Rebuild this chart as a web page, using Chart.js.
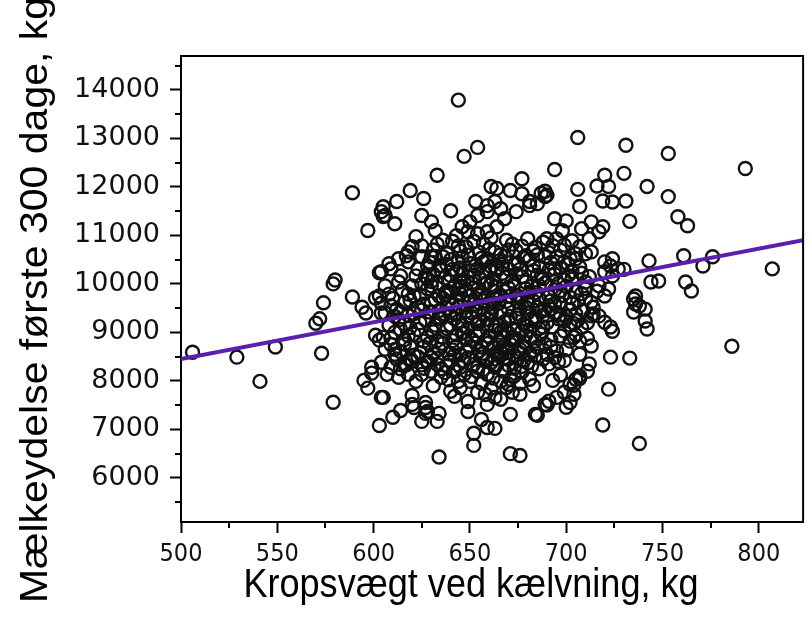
<!DOCTYPE html>
<html>
<head>
<meta charset="utf-8">
<script src="https://cdn.jsdelivr.net/npm/chart.js@4"></script>
<style>
html,body{margin:0;padding:0;background:#fff;}
#c{display:block;}
</style>
</head>
<body>
<canvas id="c" width="812" height="624"></canvas>
<script>
const xTitle = 'Kropsvægt ved kælvning, kg';
const yTitle = 'Mælkeydelse første 300 dage, kg';
const xTicks = [500, 550, 600, 650, 700, 750, 800];
const xMinorTicks = [525, 575, 625, 675, 725, 775];
const yTicks = [6000, 7000, 8000, 9000, 10000, 11000, 12000, 13000, 14000];
const yMinorTicks = [5500, 6500, 7500, 8500, 9500, 10500, 11500, 12500, 13500, 14500];
const xRange = [500, 823];
const yRange = [5090, 14700];
const fitLineWeight = [500, 823];
const fitLineMilk = [8450, 10900];

// [body weight at calving (kg), milk yield first 300 days (kg)]
const cows = [
[506,8590],[529,8490],[541,7990],[549,8700],[573,8570],[570,9190],[572,9280],[574,9610],[579,7560],[579,10000],[580,10080],[589,11880],[589,9730],[594,9520],[596,9400],[597,11100],[601,9710],[603,9750],[604,9400],[603,8840],[601,8940],[599,8280],[599,8160],[595,8010],[597,7850],[604,7660],[603,7080],[604,11490],[605,11390],[603,10230],
[644,13790],[647,12630],[654,12815],[706,13020],[633,12240],[694,12360],[731,12860],[753,12690],[793,12380],[619,11925],[612,11700],[626,11760],[605,11590],[606,11410],[611,11240],[625,11410],[630,11280],[632,11100],[640,11510],
[653,11700],[661,12010],[664,11970],[659,11615],[663,11700],[666,11550],[659,11490],[654,11410],[650,11280],[646,11180],[649,11075],[654,11035],[659,11075],[664,11180],[668,11345],[643,10995],[644,10785],
[671,11925],[677,12170],[677,11860],[681,11615],[685,11655],[689,11800],[690,11830],[687,11870],[689,11910],[681,11700],[674,11490],
[706,11950],[707,11595],[716,12020],[720,12240],[722,12010],[730,12280],[719,11710],[724,11690],[731,11710],[733,11290],[742,12010],
[694,11345],[700,11300],[698,11095],[695,10930],[703,10890],[708,11140],[713,11280],[719,11180],[717,11075],[712,10930],[707,10765],[710,10620],[713,10660],[705,10520],[702,10520],
[720,10455],[724,10520],[723,10370],[727,10310],[730,10300],[720,10250],[724,10165],[717,9960],[722,9895],[710,10040],
[753,11800],[758,11385],[763,11200],[743,10475],[761,10580],[771,10370],[776,10560],[807,10310],[744,10040],[748,10060],[762,10040],[765,9855],[736,9750],
[786,8715],[738,6710],[719,7090],[722,7830],[723,8490],[733,8470],[720,9210],[724,9025],[735,9690],[736,9585],[738,9545],[735,9420],[741,9480],[741,9235],[742,9070],[717,9340],[720,9750],[723,9110],[713,9340],[707,8550],
[705,8035],[707,8100],[702,7930],[699,7765],[704,7725],[695,7660],[689,7515],[691,7580],[684,7310],[700,7455],[702,7555],
[671,7310],[670,7930],[672,7765],[676,7725],[681,8035],[671,8035],
[689,8760],[692,8700],[695,8620],[690,8550],[694,8480],[696,8400],[691,8350],[688,8450],
[705,9380],[706,9250],[708,9100],[705,8950],[707,8820],[704,9180],
[684,9320],[689,9480],[694,9590],[688,9110],[693,9110],[697,8925],[702,8820],[699,9235],[704,8900],
[668,9050],[672,8900],[667,8700],[675,8600],[670,8450],[677,8300],[668,8200],[673,8100],[676,7950],
[634,6430],[652,6670],[652,6920],[659,7040],[663,7020],[671,6500],[676,6460],[685,7290],[690,7500],[704,7910],[707,8050],
[610,7250],[614,7390],[605,7660],[620,7700],[621,7450],[627,7450],[627,7330],[634,7330],
[620,7515],[627,7555],[628,7370],[640,7785],[642,7680],[645,7865],[649,7575],[654,7765],[658,7720],[659,7515],[663,7660],[666,7620],[669,7865],[625,7165],[633,7165],[656,7205],[649,7370],
[606,8655],[611,8550],[604,8385],[609,8280],[616,8340],[620,8405],[607,8135],[613,8075],[618,8135],[622,7990],[625,8135],[630,8200],[633,8340],[628,8405],[635,8075],[642,8200],[647,8135],[644,7990],[650,7990],[654,8200],[659,8135],[663,8280],[666,7990],[668,8200],
[622,10975],[620,10765],[625,10785],[613,10520],[608,10415],[604,10250],[609,10310],[617,10580],[618,10660],[618,10455],[625,10560],[630,10560],[623,10310],[628,10370],[614,10165],[622,10165],[627,10165],[606,9960],[613,10040],[620,9960],[625,10000],[608,9790],[618,9790],
[636,10900],[652,10880],[661,10950],[672,10820],[680,10930],[688,10860],[693,10790],
[631,10700],[638,10620],[648,10760],[655,10650],[660,10720],[666,10600],[674,10690],[679,10580],[684,10750],[691,10640],[697,10700],[636,10560],
[629,10450],[634,10380],[640,10500],[645,10330],[650,10420],[656,10530],[661,10360],[665,10470],[670,10310],[675,10430],[681,10500],[686,10350],[692,10440],[697,10330],[641,10300],[654,10310],
[631,10200],[637,10120],[643,10260],[647,10080],[652,10170],[657,10250],[662,10100],[667,10220],[672,10060],[677,10150],[683,10270],[688,10110],[694,10200],[699,10090],[703,10250],[646,10200],[660,10290],
[628,9900],[633,10010],[638,9850],[642,9960],[648,9880],[651,10030],[656,9820],[663,9940],[668,9850],[673,10000],[679,9900],[684,9820],[689,10020],[694,9880],[700,9950],[705,9840],[710,9900],[615,9870],[645,9810],
[604,9600],[610,9700],[616,9620],[621,9750],[626,9580],[632,9680],[637,9780],[641,9560],[646,9700],[650,9620],[655,9760],[660,9580],[664,9700],[669,9640],[674,9770],[680,9600],[686,9700],[692,9650],[698,9760],[703,9590],[710,9700],[713,9620],
[606,9400],[612,9480],[618,9350],[623,9520],[629,9420],[634,9320],[638,9500],[643,9400],[648,9310],[653,9460],[657,9360],[662,9520],[666,9420],[671,9330],[676,9480],[680,9400],[685,9520],[695,9410],[700,9330],[709,9450],[714,9380],
[608,9150],[613,9260],[619,9100],[624,9200],[630,9060],[635,9280],[640,9150],[644,9230],[649,9080],[654,9180],[659,9270],[663,9120],[668,9220],[673,9060],[678,9170],[682,9250],[686,9080],[696,9280],[702,9150],[711,9200],
[605,8900],[611,9000],[616,8850],[621,8960],[626,8820],[631,9010],[636,8900],[641,8830],[646,8980],[651,8860],[655,9030],[660,8920],[665,8810],[670,8990],[674,8870],[679,8940],[684,8820],[699,9030],[711,8880],
[609,8750],[614,8600],[619,8700],[624,8580],[629,8770],[634,8650],[639,8560],[643,8720],[648,8610],[653,8780],[657,8570],[662,8690],[666,8600],[671,8760],[676,8650],[681,8560],[685,8700],[700,8640],[713,8720],
[612,8450],[617,8330],[623,8500],[628,8380],[633,8470],[638,8320],[642,8530],[647,8410],[652,8340],[656,8490],[661,8380],[665,8520],[670,8320],[675,8460],[680,8370],[684,8510],[699,8420],[712,8350],
[626,8260],[637,8170],[645,8280],[651,8090],[657,8240],[662,8060],[677,8180],[686,8250],[697,8120],[711,8200],
[631,7900],[639,8020],[656,7950],[661,7850],[683,7900],[693,8010],
[639,10050],[644,9900],[649,10150],[653,9700],[658,10000],[663,9850],[667,10400],[671,9750],[676,10300],[682,9950],[687,10150],[643,9650],[651,9400],[659,9150],[666,9000],[674,9300],[681,9050],[647,9000],[656,8700],[663,8450],[670,8600],[678,8800],[688,9350],[691,9550],[640,9350],[634,9750],[628,10100],[699,10450],[695,10550],[685,10600],[670,10700],[657,10450],[646,10550],
[703,10100],[707,10350],[712,10150],[716,9850],[706,9650],[714,9520],
[633,10820],[645,10680],[657,10830],[663,10660],[669,10900],[677,10780],[683,10680],[690,10930],[699,10800],[641,10880],
[632,10560],[638,10400],[644,10460],[649,10590],[653,10380],[659,10520],[664,10330],[668,10560],[673,10400],[678,10540],[683,10380],[689,10560],[694,10310],[701,10400],[705,10620],
[630,10050],[635,10280],[640,10170],[645,10040],[650,10270],[655,10120],[659,10030],[664,10280],[669,10130],[674,10210],[679,10040],[685,10180],[691,10280],[696,10010],[701,10170],[708,10220],
[624,9780],[630,9960],[636,9700],[640,9830],[646,9950],[650,9750],[654,9890],[658,9720],[661,9990],[666,9760],[670,9920],[676,9700],[681,9830],[686,9960],[691,9740],[697,9850],[702,9720],[708,9800],
[609,9550],[614,9420],[619,9660],[625,9460],[630,9600],[634,9450],[639,9640],[644,9530],[648,9430],[652,9580],[657,9650],[661,9420],[665,9600],[670,9480],[675,9620],[679,9520],[683,9650],[687,9430],[692,9480],[697,9600],[702,9470],
[611,9330],[616,9180],[621,9390],[627,9250],[632,9150],[637,9380],[642,9280],[646,9140],[651,9300],[655,9240],[661,9370],[665,9140],[670,9260],[675,9380],[680,9130],[684,9240],[690,9200],[697,9360],
[609,8880],[614,9060],[618,8930],[623,9060],[628,8900],[633,8830],[638,9080],[643,8950],[648,8850],[653,8950],[658,8830],[663,9040],[667,8900],[672,8820],[677,9030],[682,8880],[687,8960],[692,8850],
[611,8650],[616,8760],[621,8530],[626,8700],[631,8560],[636,8770],[641,8640],[645,8540],[650,8700],[655,8620],[659,8770],[664,8550],[669,8670],[673,8520],[678,8710],[683,8630],
[614,8250],[619,8460],[625,8330],[630,8480],[635,8250],[640,8420],[644,8330],[649,8480],[654,8280],[659,8430],[664,8340],[668,8480],[673,8260],[678,8420],[682,8300]
];

const frameAndTicks = {
  id: 'frameAndTicks',
  afterDraw(chart) {
    const {ctx, chartArea: a, scales: {x, y}} = chart;
    ctx.save();
    ctx.strokeStyle = '#000';
    ctx.lineWidth = 2;
    ctx.beginPath();
    ctx.moveTo(a.left, a.top); ctx.lineTo(a.right, a.top); ctx.lineTo(a.right, a.bottom);
    ctx.stroke();
    ctx.beginPath();
    xMinorTicks.forEach(v => { const p = Math.round(x.getPixelForValue(v)); ctx.moveTo(p, a.bottom); ctx.lineTo(p, a.bottom + 6); });
    yMinorTicks.forEach(v => { const p = Math.round(y.getPixelForValue(v)); ctx.moveTo(a.left - 6, p); ctx.lineTo(a.left, p); });
    ctx.stroke();
    ctx.fillStyle = '#000';
    ctx.font = '41px "Liberation Sans", Arial, sans-serif';
    ctx.textAlign = 'center';
    ctx.textBaseline = 'alphabetic';
    ctx.save();
    ctx.translate(471, 597);
    ctx.scale(0.88, 1);
    ctx.fillText(xTitle, 0, 0);
    ctx.restore();
    ctx.save();
    ctx.translate(47, 300);
    ctx.rotate(-Math.PI / 2);
    ctx.scale(1, 0.95);
    ctx.fillText(yTitle, 0, 0);
    ctx.restore();
    ctx.restore();
  }
};

new Chart(document.getElementById('c'), {
  type: 'scatter',
  data: {
    datasets: [
      {
        type: 'line',
        label: 'Regression',
        data: fitLineWeight.map((w, i) => ({x: w, y: fitLineMilk[i]})),
        borderColor: '#5a1fae',
        borderWidth: 4,
        pointRadius: 0,
        fill: false,
        order: 0
      },
      {
        label: 'Køer',
        data: cows.map(c => ({x: c[0], y: c[1]})),
        pointStyle: 'circle',
        pointRadius: 6.5,
        borderWidth: 2.4,
        borderColor: '#111',
        backgroundColor: 'rgba(0,0,0,0)',
        order: 1
      }
    ]
  },
  options: {
    responsive: false,
    animation: false,
    devicePixelRatio: 1,
    layout: {padding: {top: 56, right: 5, left: 0, bottom: 0}},
    plugins: {legend: {display: false}, tooltip: {enabled: false}},
    scales: {
      x: {
        type: 'linear', min: xRange[0], max: xRange[1],
        afterBuildTicks: s => { s.ticks = xTicks.map(v => ({value: v})); },
        afterFit: s => { s.height = 102; },
        ticks: {
          font: {family: '"DejaVu Sans Condensed", "DejaVu Sans", sans-serif', size: 25},
          color: '#111', padding: 6, maxRotation: 0, autoSkip: false,
          callback: v => String(v)
        },
        grid: {drawOnChartArea: false, tickLength: 11, tickWidth: 2, tickColor: '#000'},
        border: {color: '#000', width: 2}
      },
      y: {
        type: 'linear', min: yRange[0], max: yRange[1],
        afterBuildTicks: s => { s.ticks = yTicks.map(v => ({value: v})); },
        afterFit: s => { s.width = 181; },
        ticks: {
          font: {family: '"DejaVu Sans", sans-serif', size: 27},
          color: '#111', padding: 10, autoSkip: false,
          callback: v => String(v)
        },
        grid: {drawOnChartArea: false, tickLength: 11, tickWidth: 2, tickColor: '#000'},
        border: {color: '#000', width: 2}
      }
    }
  },
  plugins: [frameAndTicks]
});
</script>
</body>
</html>
